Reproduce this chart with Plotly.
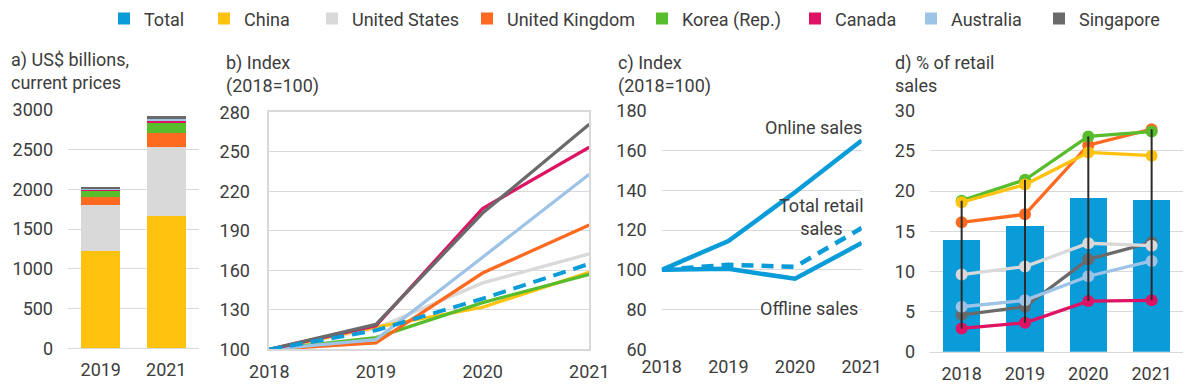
import plotly.graph_objects as go

# ---------------- data ----------------
countries = ["China", "United States", "United Kingdom", "Korea (Rep.)", "Canada", "Australia", "Singapore"]
colors = {"Total": "#0a9bd9", "China": "#ffc20e", "United States": "#d9d9d9",
          "United Kingdom": "#ff6a21", "Korea (Rep.)": "#58bd2c", "Canada": "#de1364",
          "Australia": "#9dc3e6", "Singapore": "#6a6a6a"}

# a) US$ billions, current prices
years_a = ["2019", "2021"]
china_a = [1224, 1661]
us_a = [576, 870]
uk_a = [98, 179]
korea_a = [86, 119]
canada_a = [14, 28]
australia_a = [16, 37]
singapore_a = [16, 24]

# b) Index (2018=100)
years_b = [2018, 2019, 2020, 2021]
total_b = [100, 114.5, 138.5, 165]
china_b = [100, 117, 132, 158.5]
us_b = [100, 116, 150.5, 172.5]
uk_b = [100, 105, 158, 194.5]
korea_b = [100, 109, 135.5, 157]
canada_b = [100, 118, 207, 253.5]
australia_b = [100, 107.5, 170, 233]
singapore_b = [100, 119, 203.5, 271]

# c) Index (2018=100)
years_c = [2018, 2019, 2020, 2021]
online_c = [100, 114.5, 139, 165]
total_retail_c = [100, 102.5, 101.5, 121]
offline_c = [100, 100.5, 95.5, 113.5]

# d) % of retail sales
years_d = ["2018", "2019", "2020", "2021"]
total_d = [13.9, 15.6, 19.1, 18.9]
china_d = [18.6, 20.8, 24.8, 24.4]
us_d = [9.6, 10.6, 13.5, 13.2]
uk_d = [16.1, 17.1, 25.7, 27.7]
korea_d = [18.8, 21.4, 26.8, 27.4]
canada_d = [2.9, 3.6, 6.3, 6.4]
australia_d = [5.6, 6.4, 9.4, 11.3]
singapore_d = [4.6, 5.6, 11.5, 13.6]

# ---------------- layout helpers ----------------
W, H = 1200, 392
FONT = "Roboto, Liberation Sans, sans-serif"
FS = 18
TXT = "#3c3c3c"
GRID = "#d9d9d9"

def fx(p):
    return p / W

def fy(p):
    return 1 - p / H

fig = go.Figure()

# ---- panel a: stacked bars ----
a_vals = {"China": china_a, "United States": us_a, "United Kingdom": uk_a,
          "Korea (Rep.)": korea_a, "Canada": canada_a, "Australia": australia_a,
          "Singapore": singapore_a}
legend_w = {"Total": 55, "China": 63, "United States": 110, "United Kingdom": 130,
            "Korea (Rep.)": 108, "Canada": 71, "Australia": 83, "Singapore": 80}
for i, c in enumerate(countries):
    fig.add_trace(go.Bar(x=years_a, y=a_vals[c], name=c, marker_color=colors[c],
                         marker_line_width=0, xaxis="x", yaxis="y",
                         legendrank=i + 2, legendwidth=legend_w[c], hoverinfo="skip"))

# ---- panel b: index lines ----
b_vals = [("United States", us_b), ("China", china_b), ("Korea (Rep.)", korea_b),
          ("United Kingdom", uk_b), ("Australia", australia_b), ("Canada", canada_b),
          ("Singapore", singapore_b)]
for c, v in b_vals:
    fig.add_trace(go.Scatter(x=years_b, y=v, mode="lines", name=c, showlegend=False,
                             line=dict(color=colors[c], width=3.3), xaxis="x2", yaxis="y2"))
fig.add_trace(go.Scatter(x=years_b, y=total_b, mode="lines", name="Total", showlegend=False,
                         line=dict(color=colors["Total"], width=4, dash="13px,8px"),
                         xaxis="x2", yaxis="y2"))

# ---- panel c ----
fig.add_trace(go.Scatter(x=years_c, y=online_c, mode="lines", showlegend=False,
                         line=dict(color=colors["Total"], width=4.5), xaxis="x3", yaxis="y3"))
fig.add_trace(go.Scatter(x=years_c, y=offline_c, mode="lines", showlegend=False,
                         line=dict(color=colors["Total"], width=4.5), xaxis="x3", yaxis="y3"))
fig.add_trace(go.Scatter(x=years_c, y=total_retail_c, mode="lines", showlegend=False,
                         line=dict(color=colors["Total"], width=4.5, dash="12px,8px"),
                         xaxis="x3", yaxis="y3"))

# ---- panel d ----
fig.add_trace(go.Bar(x=years_d, y=total_d, name="Total", marker_color=colors["Total"],
                     marker_line_width=0, xaxis="x4", yaxis="y4", legendrank=1,
                     legendwidth=legend_w["Total"], hoverinfo="skip"))
d_vals = [("Singapore", singapore_d), ("Australia", australia_d), ("United States", us_d),
          ("Canada", canada_d), ("United Kingdom", uk_d), ("Korea (Rep.)", korea_d),
          ("China", china_d)]
for c, v in d_vals:
    fig.add_trace(go.Scatter(x=years_d, y=v, mode="lines+markers", showlegend=False,
                             line=dict(color=colors[c], width=3.3),
                             marker=dict(color=colors[c], size=12),
                             xaxis="x4", yaxis="y4"))
# high-low range lines per year
all_d = [v for _, v in d_vals]
rx, ry = [], []
for j, yr in enumerate(years_d):
    col = [v[j] for v in all_d]
    rx += [yr, yr, None]
    ry += [max(col), min(col), None]
fig.add_trace(go.Scatter(x=rx, y=ry, mode="lines", showlegend=False,
                         line=dict(color="#2b2b2b", width=2), xaxis="x4", yaxis="y4"))

# ---------------- axes ----------------
tickfont = dict(family=FONT, size=FS, color=TXT)

def yax(dom, rng, dtick, anchor, **kw):
    d = dict(domain=[fy(dom[1]), fy(dom[0])], range=rng, dtick=dtick, tick0=rng[0],
             anchor=anchor, showgrid=True, gridcolor=GRID, gridwidth=1.3, zeroline=False,
             showline=False, ticks="", tickfont=tickfont, ticklabelstandoff=14,
             automargin=False, fixedrange=True)
    d.update(kw)
    return d

def xax(dom, anchor, **kw):
    d = dict(domain=[fx(dom[0]), fx(dom[1])], anchor=anchor, showgrid=False,
             zeroline=False, ticks="", tickfont=tickfont, ticklabelstandoff=5,
             automargin=False, fixedrange=True)
    d.update(kw)
    return d

fig.update_layout(
    width=W, height=H, margin=dict(l=0, r=0, t=0, b=0),
    paper_bgcolor="white", plot_bgcolor="white",
    barmode="stack", bargap=0.41,
    font=dict(family=FONT, color=TXT, size=FS),
    showlegend=True,
    legend=dict(orientation="h", x=fx(104), xanchor="left", y=fy(9), yanchor="middle",
                font=dict(family=FONT, size=FS, color=TXT), bgcolor="rgba(0,0,0,0)",
                traceorder="normal"),
    xaxis=xax((68, 199), "y", type="category", showline=True, linecolor=GRID, linewidth=1.3),
    yaxis=yax((102.3, 347.3), [0, 3000], 500, "x"),
    xaxis2=xax((269.3, 589.3), "y2", range=[2018, 2021], tickvals=years_b,
               showline=True, mirror=True, linecolor=GRID, linewidth=1.5),
    yaxis2=yax((105, 348.3), [100, 280], 30, "x2", showline=True, mirror=True,
               linecolor=GRID, linewidth=1.5),
    xaxis3=xax((661.7, 861.7), "y3", range=[2018, 2021], tickvals=years_c),
    yaxis3=yax((103.3, 348.3), [60, 180], 20, "x3"),
    xaxis4=xax((930, 1183.3), "y4", type="category", showline=True, linecolor=GRID, linewidth=1.3),
    yaxis4=yax((103.3, 350.7), [0, 30], 5, "x4"),
)

# ---------------- annotations ----------------
titles = [
    (9.3, 63, "a) US$ billions,<br>current prices"),
    (224, 66, "b) Index<br>(2018=100)"),
    (616, 66, "c) Index<br>(2018=100)"),
    (893, 66, "d) % of retail<br>sales"),
]
for x, y, t in titles:
    fig.add_annotation(text=t, x=fx(x), y=fy(y), xref="paper", yref="paper",
                       xanchor="left", yanchor="middle", align="left", showarrow=False,
                       font=dict(family=FONT, size=FS, color=TXT))

fig.add_annotation(text="Online sales", x=2021, y=171.5, xref="x3", yref="y3", xshift=2,
                   xanchor="right", yanchor="middle", showarrow=False,
                   font=dict(family=FONT, size=FS, color=TXT))
fig.add_annotation(text="Total retail<br>sales", x=2020.4, y=126.5, xref="x3", yref="y3",
                   xanchor="center", yanchor="middle", align="center", showarrow=False,
                   font=dict(family=FONT, size=FS, color=TXT))
fig.add_annotation(text="Offline sales", x=2020.21, y=80.5, xref="x3", yref="y3",
                   xanchor="center", yanchor="middle", showarrow=False, bgcolor="white",
                   borderpad=0, font=dict(family=FONT, size=FS, color=TXT))

fig.write_html("out.html", config={"displayModeBar": False},
               post_script="document.body.style.margin='0';document.body.style.padding='0';")
